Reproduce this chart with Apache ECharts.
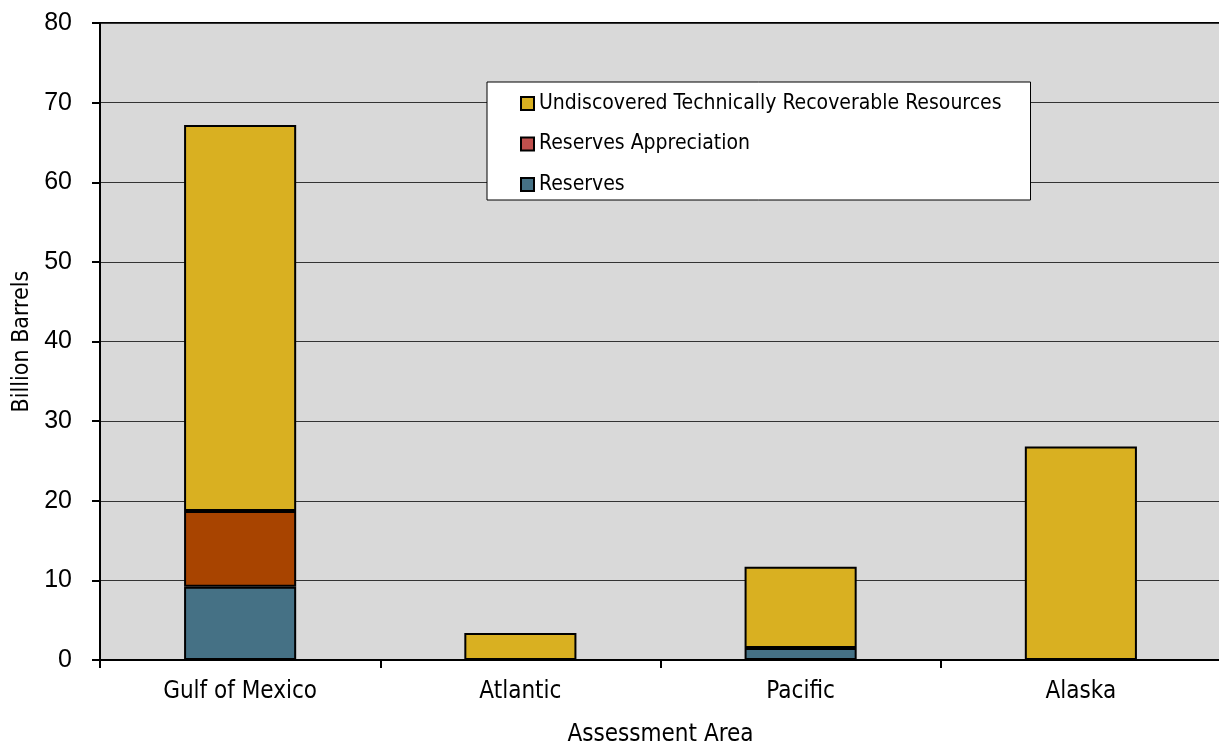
<!DOCTYPE html>
<html><head><meta charset="utf-8">
<script src="https://cdn.jsdelivr.net/npm/echarts@6/dist/echarts.min.js"></script>
<style>html,body{margin:0;padding:0;background:#fff}#c{width:1219px;height:746px}</style>
</head><body><div id="c"></div>
<script>
const categories = ['Gulf of Mexico', 'Atlantic', 'Pacific', 'Alaska'];
const reserves = [9.2, null, 1.5, null];
const appreciation = [9.5, null, null, null];
const undiscovered = [48.5, 3.4, 10.2, 26.8];
const yTicks = [0, 10, 20, 30, 40, 50, 60, 70, 80];
const names = ['Undiscovered Technically Recoverable Resources', 'Reserves Appreciation', 'Reserves'];

const narrow = "'Liberation Sans Narrow', 'DejaVu Sans Condensed', sans-serif";
const chart = echarts.init(document.getElementById('c'), null, {renderer: 'canvas'});
const barStyle = (c) => ({color: c, borderColor: '#000', borderWidth: 2});
chart.setOption({
  animation: false,
  grid: {left: 100, right: -2, top: 23, bottom: 86, containLabel: false, outerBoundsMode: 'none',
    show: true, backgroundColor: '#d9d9d9', borderWidth: 2, borderColor: '#000'},
  legend: {
    orient: 'vertical', left: 487, top: 82,
    backgroundColor: '#fff', borderColor: '#000', borderWidth: 1,
    padding: [11, 29, 5, 33], itemGap: 19.5, itemWidth: 13, itemHeight: 13,
    textStyle: {fontFamily: narrow, fontSize: 21, lineHeight: 20, color: '#000'},
    data: [
      {name: names[0], icon: 'rect', itemStyle: {color: '#d9b021', borderColor: '#000', borderWidth: 2}},
      {name: names[1], icon: 'rect', itemStyle: {color: '#c0504d', borderColor: '#000', borderWidth: 2}},
      {name: names[2], icon: 'rect', itemStyle: {color: '#457185', borderColor: '#000', borderWidth: 2}}
    ]
  },
  xAxis: {
    type: 'category', data: categories, boundaryGap: true,
    name: 'Assessment Area', nameLocation: 'middle', nameGap: 63,
    nameTextStyle: {fontFamily: narrow, fontSize: 24, color: '#000'},
    axisLine: {lineStyle: {color: '#000', width: 2}},
    axisTick: {show: true, length: 8, lineStyle: {color: '#000', width: 2}},
    axisLabel: {fontFamily: narrow, fontSize: 24, color: '#000', margin: 20},
    splitLine: {show: false}
  },
  yAxis: {
    type: 'value', min: 0, max: 80, interval: 10,
    name: 'Billion Barrels', nameLocation: 'middle', nameGap: 64,
    nameTextStyle: {fontFamily: narrow, fontSize: 23, color: '#000'},
    axisLine: {show: true, lineStyle: {color: '#000', width: 2}},
    axisTick: {show: true, inside: false, length: 8, lineStyle: {color: '#000', width: 2}},
    axisLabel: {fontFamily: "'Liberation Sans', Arial, sans-serif", fontSize: 25, color: '#000', margin: 28,
      formatter: v => yTicks.includes(v) ? String(v) : ''},
    splitLine: {show: true, lineStyle: {color: '#333', width: 1}}
  },
  series: [
    {name: names[2], type: 'bar', stack: 'a', data: reserves, barWidth: '40%', itemStyle: barStyle('#457185')},
    {name: names[1], type: 'bar', stack: 'a', data: appreciation, barWidth: '40%', itemStyle: barStyle('#a84400')},
    {name: names[0], type: 'bar', stack: 'a', data: undiscovered, barWidth: '40%', itemStyle: barStyle('#d9b021')}
  ]
});
</script></body></html>
